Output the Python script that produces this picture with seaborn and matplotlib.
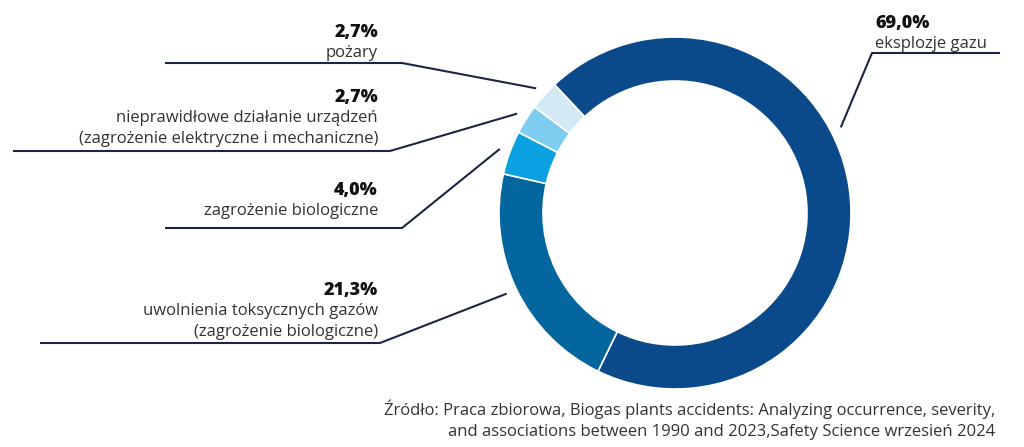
import numpy as np
import matplotlib
matplotlib.use("Agg")
import matplotlib.pyplot as plt
import seaborn as sns

# ---------------- data ----------------
categories = [
    "eksplozje gazu",
    "uwolnienia toksycznych gazów\n(zagrożenie biologiczne)",
    "zagrożenie biologiczne",
    "nieprawidłowe działanie urządzeń\n(zagrożenie elektryczne i mechaniczne)",
    "pożary",
]
values = [69.0, 21.3, 4.0, 2.7, 2.7]
pct_labels = ["69,0%", "21,3%", "4,0%", "2,7%", "2,7%"]
colors = ["#0b4a8a", "#04669f", "#0ba0e0", "#7ecdf0", "#d3e9f3"]
source = ("Źródło: Praca zbiorowa, Biogas plants accidents: Analyzing occurrence, severity,\n"
          "and associations between 1990 and 2023,Safety Science wrzesień 2024")

# ---------------- style ----------------
sns.set_theme(style="white")
plt.rcParams["font.family"] = ["Open Sans", "DejaVu Sans"]

W, H = 1024, 447
fig = plt.figure(figsize=(W / 100, H / 100), dpi=100)

# donut axes (pixel layout)
cx, cy, R = 675, 213, 176
axp = fig.add_axes([(cx - R) / W, (H - cy - R) / H, 2 * R / W, 2 * R / H])
palette = sns.color_palette(colors)
wedges, _ = axp.pie(values, colors=palette, startangle=133.2, counterclock=False,
                    radius=1.0, wedgeprops=dict(width=0.25, edgecolor="white", linewidth=1.2))
axp.set_xlim(-1, 1)
axp.set_ylim(-1, 1)
axp.set_aspect("equal")
axp.axis("off")

# overlay axes in pixel coordinates
ax = fig.add_axes([0, 0, 1, 1], facecolor="none")
ax.set_xlim(0, W)
ax.set_ylim(H, 0)
ax.axis("off")

# layout of labels: (side, x_text, pct_baseline, line_y, line_x0, line_x1, anchor_frac)
layout = [
    ("right", 875, 28, 53, 1000, 872, 0.575),
    ("left", 378, 295, 343, 40, 380, 0.5),
    ("left", 378, 195, 228, 165, 402, 0.5),
    ("left", 378, 102, 151, 13, 390, 0.5),
    ("left", 378, 37, 63, 165, 402, 0.5),
]
line_color = "#1c2544"
pct_color = "#111111"
txt_color = "#333333"
lh = 21

for w, cat, pct, (side, xt, pb, ly, lx0, lx1, frac) in zip(wedges, categories, pct_labels, layout):
    ang = np.deg2rad(w.theta1 + frac * (w.theta2 - w.theta1))
    r_anchor = 1.06
    px = cx + r_anchor * R * np.cos(ang)
    py = cy - r_anchor * R * np.sin(ang)
    ax.plot([lx0, lx1, px], [ly, ly, py], color=line_color, lw=1.5, solid_capstyle="butt")
    ha = "left" if side == "right" else "right"
    ax.text(xt, pb, pct, ha=ha, va="baseline", fontsize=13, fontweight="heavy", color=pct_color)
    for i, line in enumerate(cat.split("\n")):
        ax.text(xt, pb + 20 + i * lh, line, ha=ha, va="baseline", fontsize=12, color=txt_color)

src_lines = source.split("\n")
for i, line in enumerate(src_lines):
    ax.text(995, 415 + i * lh, line, ha="right", va="baseline", fontsize=12, color=txt_color)

fig.savefig("out.png", dpi=100)
